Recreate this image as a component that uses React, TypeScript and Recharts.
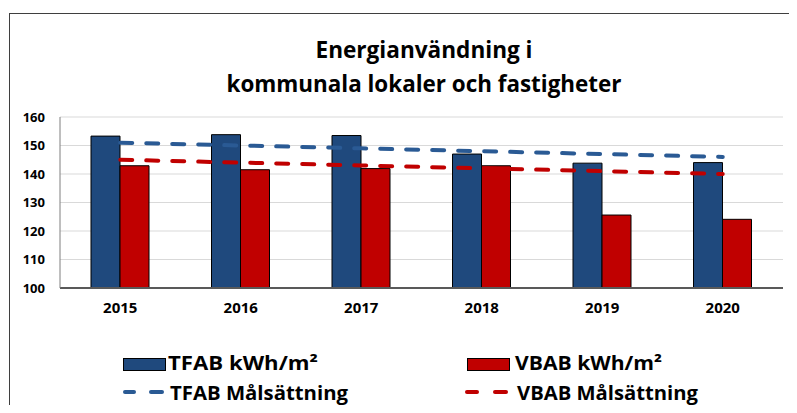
import React from 'react'
import { ComposedChart, Bar, Line, XAxis, YAxis, CartesianGrid } from 'recharts'

const years = ['2015', '2016', '2017', '2018', '2019', '2020']
const tfabValues = [153.3, 153.8, 153.5, 147.0, 143.8, 144.0]
const vbabValues = [142.9, 141.5, 141.9, 142.9, 125.6, 124.1]
const tfabGoal = [151, 150, 149, 148, 147, 146]
const vbabGoal = [145, 144, 143, 142, 141, 140]
const yTicks = [100, 110, 120, 130, 140, 150, 160]

const titleLines = ['Energianvändning i', 'kommunala lokaler och fastigheter']
const legendLabels = ['TFAB kWh/m²', 'VBAB kWh/m²', 'TFAB Målsättning', 'VBAB Målsättning']

const BLUE = '#1F497D'
const RED = '#C00000'
const LINE_BLUE = '#2A5A94'
const FONT = '"Open Sans", "Liberation Sans", sans-serif'

const data = years.map((year, i) => ({
  year,
  tfab: tfabValues[i],
  vbab: vbabValues[i],
  tfabGoal: tfabGoal[i],
  vbabGoal: vbabGoal[i],
}))

function Overlay() {
  // coordinates relative to the container at page (8, 8)
  return (
    <svg
      width={789}
      height={405}
      style={{ position: 'absolute', left: 0, top: 0, pointerEvents: 'none' }}
      fontFamily={FONT}
      fontWeight="bold"
    >
      <text x={416} y={50} fontSize={24} textAnchor="middle" textLength={217} lengthAdjust="spacingAndGlyphs">
        {titleLines[0]}
      </text>
      <text x={416} y={84} fontSize={24} textAnchor="middle" textLength={395} lengthAdjust="spacingAndGlyphs">
        {titleLines[1]}
      </text>

      <rect x={115.5} y={350.5} width={42} height={12} fill={BLUE} stroke="#000" strokeWidth={1} />
      <text x={160} y={362} fontSize={19} textLength={150} lengthAdjust="spacingAndGlyphs">
        {legendLabels[0]}
      </text>
      <rect x={459.5} y={350.5} width={42} height={12} fill={RED} stroke="#000" strokeWidth={1} />
      <text x={507} y={362} fontSize={19} textLength={147} lengthAdjust="spacingAndGlyphs">
        {legendLabels[1]}
      </text>

      <line x1={117} y1={384} x2={126} y2={384} stroke={LINE_BLUE} strokeWidth={4} strokeLinecap="round" />
      <line x1={143} y1={384} x2={154} y2={384} stroke={LINE_BLUE} strokeWidth={4} strokeLinecap="round" />
      <text x={162} y={392} fontSize={19} textLength={178} lengthAdjust="spacingAndGlyphs">
        {legendLabels[2]}
      </text>
      <line x1={459} y1={384} x2={469} y2={384} stroke={RED} strokeWidth={4} strokeLinecap="round" />
      <line x1={487} y1={384} x2={498} y2={384} stroke={RED} strokeWidth={4} strokeLinecap="round" />
      <text x={509} y={392} fontSize={19} textLength={181} lengthAdjust="spacingAndGlyphs">
        {legendLabels[3]}
      </text>
    </svg>
  )
}

export default function App() {
  return (
    <div style={{ position: 'relative', width: 789, height: 405, overflow: 'hidden', marginBottom: -8, background: '#fff' }}>
      <div
        style={{
          position: 'absolute',
          left: 1,
          top: 5,
          width: 820,
          height: 500,
          border: '1.5px solid #3f3f3f',
          boxSizing: 'border-box',
        }}
      />
      <div style={{ position: 'absolute', left: 0, top: 0 }}>
        <ComposedChart
          width={789}
          height={397}
          data={data}
          margin={{ top: 109, right: 14, bottom: 87, left: 0 }}
          barGap={0}
        >
          <CartesianGrid vertical={false} stroke="#D9D9D9" strokeWidth={1} />
          <XAxis
            dataKey="year"
            tickSize={0}
            tickMargin={14}
            height={30}
            axisLine={{ stroke: '#595959', strokeWidth: 2 }}
            tick={{ fontSize: 15, fontWeight: 'bold', fill: '#000', fontFamily: FONT }}
          />
          <YAxis
            width={52}
            domain={[100, 160]}
            ticks={yTicks}
            allowDataOverflow
            tickSize={0}
            tickMargin={15}
            axisLine={{ stroke: '#7F7F7F', strokeWidth: 1 }}
            tick={{ fontSize: 13, fontWeight: 'bold', fill: '#000', fontFamily: FONT }}
          />
          <Bar dataKey="tfab" barSize={29} fill={BLUE} stroke="#000" strokeWidth={1} isAnimationActive={false} />
          <Bar dataKey="vbab" barSize={29} fill={RED} stroke="#000" strokeWidth={1} isAnimationActive={false} />
          <Line
            type="linear"
            dataKey="tfabGoal"
            stroke={LINE_BLUE}
            strokeWidth={4}
            strokeDasharray="12 14"
            strokeLinecap="round"
            dot={false}
            activeDot={false}
            isAnimationActive={false}
          />
          <Line
            type="linear"
            dataKey="vbabGoal"
            stroke={RED}
            strokeWidth={4}
            strokeDasharray="12 14"
            strokeLinecap="round"
            dot={false}
            activeDot={false}
            isAnimationActive={false}
          />
        </ComposedChart>
      </div>
      <Overlay />
    </div>
  )
}
